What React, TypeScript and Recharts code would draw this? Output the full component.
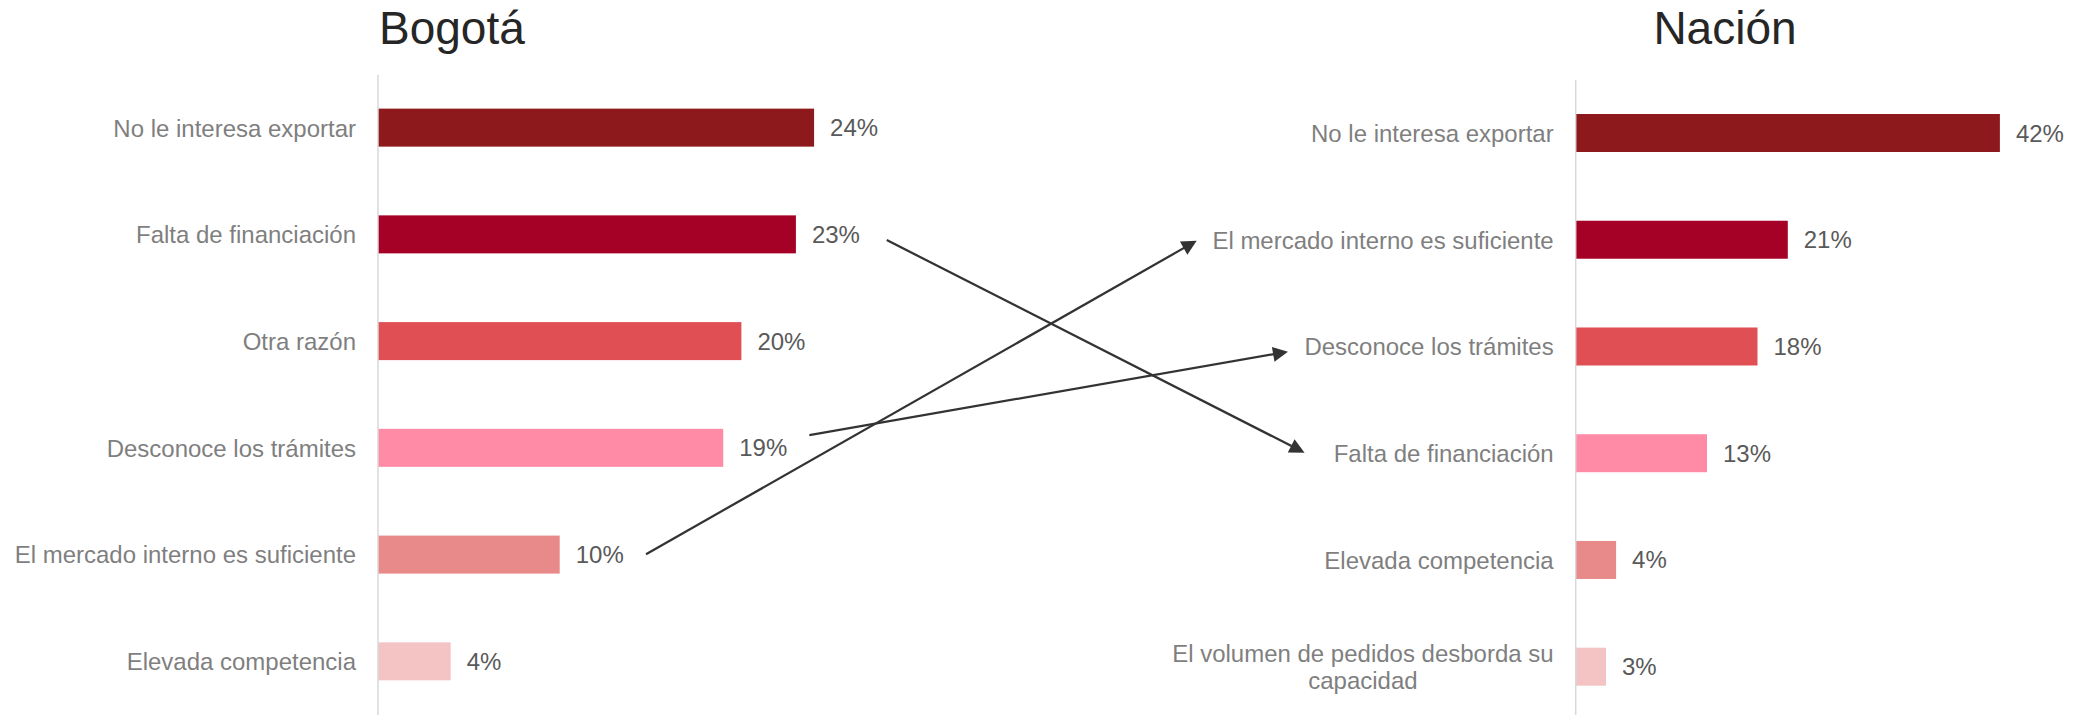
import React from 'react';
import { BarChart, Bar, XAxis, YAxis } from 'recharts';

// ---------- data ----------
const bogotaCategories = [
  'No le interesa exportar',
  'Falta de financiación',
  'Otra razón',
  'Desconoce los trámites',
  'El mercado interno es suficiente',
  'Elevada competencia',
];
const bogotaValues = [24, 23, 20, 19, 10, 4];

const nacionCategories = [
  'No le interesa exportar',
  'El mercado interno es suficiente',
  'Desconoce los trámites',
  'Falta de financiación',
  'Elevada competencia',
  'El volumen de pedidos desborda su capacidad',
];
const nacionValues = [42, 21, 18, 13, 4, 3];

const panelTitles = ['Bogotá', 'Nación'];
// categories whose rank changes, linked by arrows (Bogotá -> Nación)
const movedCategories = ['Falta de financiación', 'El mercado interno es suficiente', 'Desconoce los trámites'];

// ---------- style ----------
const barColors = ['#8E191C', '#A50026', '#E04F54', '#FF8BA7', '#E8898A', '#F4C4C5'];
const FONT = 'Arial, "Liberation Sans", sans-serif';
const W = 2075;
const H = 715;
const BAND = 106.74;
const LABEL_FS = 24;
const TICK_GAP = 22;
const VALUE_GAP = 16;
const BAR_SIZE = 38;
const LINE_H = 27.3;
const CAT_COLOR = '#7F7F7F';
const VAL_COLOR = '#595959';
const TITLE_COLOR = '#262626';
const ARROW_COLOR = '#333333';

const LEFT = { left: 0, axisX: 378, top: 74.63, max: 30, pxPer: 18.17, titleX: 379 };
const RIGHT = { left: 1100, axisX: 475.7, top: 80, max: 45, pxPer: 10.1, titleX: 1653.4 };

// per-arrow fine placement (start/end gaps and vertical nudges)
const arrowStyle = [
  { gapStart: 26.8, dyStart: 5.3, gapEnd: 29, dyEnd: -0.9 },
  { gapStart: 22.3, dyStart: -0.7, gapEnd: 15.5, dyEnd: 0.6 },
  { gapStart: 22.1, dyStart: -13.2, gapEnd: 16.3, dyEnd: 4.85 },
];

let ctx: CanvasRenderingContext2D | null = null;
function measure(text: string, size = LABEL_FS): number {
  if (!ctx && typeof document !== 'undefined') {
    const c = document.createElement('canvas');
    ctx = c.getContext('2d');
  }
  if (!ctx) return text.length * size * 0.5;
  ctx.font = `${size}px Arial, "Liberation Sans", sans-serif`;
  return ctx.measureText(text).width;
}

function wrap(text: string, maxW: number): string[] {
  const words = text.split(' ');
  const lines: string[] = [];
  let cur = '';
  for (const w of words) {
    const cand = cur ? cur + ' ' + w : w;
    if (cur && measure(cand) > maxW) {
      lines.push(cur);
      cur = w;
    } else {
      cur = cand;
    }
  }
  if (cur) lines.push(cur);
  return lines;
}

type Cfg = typeof LEFT;

function Panel({ categories, values, cfg }: { categories: string[]; values: number[]; cfg: Cfg }) {
  const data = categories.map((name, i) => ({ name, value: values[i] }));
  const plotW = cfg.max * cfg.pxPer;
  const marginRight = 70;
  const width = cfg.axisX + plotW + marginRight;
  const height = cfg.top + BAND * categories.length;

  const renderTick = (p: any) => {
    const label = String(p.payload.value);
    const lines = wrap(label, cfg.axisX - TICK_GAP - 4);
    const x = cfg.axisX - TICK_GAP;
    const y = p.y;
    const y0 = y - ((lines.length - 1) * LINE_H) / 2;
    if (lines.length === 1) {
      return (
        <text x={x} y={y} dy="0.355em" textAnchor="end" fill={CAT_COLOR} fontSize={LABEL_FS} fontFamily={FONT}>
          {label}
        </text>
      );
    }
    const blockW = Math.max(...lines.map((l) => measure(l)));
    const cx = x - blockW / 2;
    return (
      <g>
        {lines.map((l, i) => (
          <text key={i} x={cx} y={y0 + i * LINE_H} dy="0.355em" textAnchor="middle" fill={CAT_COLOR} fontSize={LABEL_FS} fontFamily={FONT}>
            {l}
          </text>
        ))}
      </g>
    );
  };

  const renderBar = (p: any) => {
    const { x, y, width: w, height: h, index } = p;
    const v = p.payload ? p.payload.value : p.value;
    return (
      <g>
        <rect x={x} y={y} width={w} height={h} fill={barColors[index % barColors.length]} />
        <text x={x + w + VALUE_GAP} y={y + h / 2} dy="0.355em" fill={VAL_COLOR} fontSize={LABEL_FS} fontFamily={FONT}>
          {v}%
        </text>
      </g>
    );
  };

  return (
    <BarChart
      layout="vertical"
      width={width}
      height={height}
      data={data}
      margin={{ top: cfg.top, right: marginRight, bottom: 0, left: 0 }}
    >
      <XAxis type="number" domain={[0, cfg.max]} hide />
      <YAxis
        type="category"
        dataKey="name"
        width={cfg.axisX}
        interval={0}
        tickLine={false}
        tickSize={0}
        axisLine={{ stroke: '#D9D9D9', strokeWidth: 1.5 }}
        tick={renderTick}
      />
      <Bar dataKey="value" barSize={BAR_SIZE} isAnimationActive={false} shape={renderBar} />
    </BarChart>
  );
}

function Arrows() {
  const items = movedCategories.map((cat, k) => {
    const st = arrowStyle[k];
    const li = bogotaCategories.indexOf(cat);
    const ri = nacionCategories.indexOf(cat);
    const lv = bogotaValues[li];
    const valueLabelEnd = LEFT.left + LEFT.axisX + lv * LEFT.pxPer + VALUE_GAP + measure(`${lv}%`);
    const x1 = valueLabelEnd + st.gapStart;
    const y1 = LEFT.top + BAND * (li + 0.5) + st.dyStart;
    const rightLabelLeft = RIGHT.left + RIGHT.axisX - TICK_GAP - measure(cat);
    const x2 = rightLabelLeft - st.gapEnd;
    const y2 = RIGHT.top + BAND * (ri + 0.5) + st.dyEnd;
    const dx = x2 - x1;
    const dy = y2 - y1;
    const len = Math.sqrt(dx * dx + dy * dy);
    const ux = dx / len;
    const uy = dy / len;
    const headL = 15;
    const headW = 7.5;
    const bx = x2 - ux * headL;
    const by = y2 - uy * headL;
    const p1 = `${x2},${y2}`;
    const p2 = `${bx - uy * headW},${by + ux * headW}`;
    const p3 = `${bx + uy * headW},${by - ux * headW}`;
    return (
      <g key={cat}>
        <line x1={x1} y1={y1} x2={bx + ux * 2} y2={by + uy * 2} stroke={ARROW_COLOR} strokeWidth={2.25} />
        <polygon points={`${p1} ${p2} ${p3}`} fill={ARROW_COLOR} />
      </g>
    );
  });
  return <g>{items}</g>;
}

export default function App() {
  return (
    <div
      style={{
        position: 'absolute',
        left: 0,
        top: 0,
        width: W,
        height: H,
        overflow: 'hidden',
        background: '#ffffff',
        fontFamily: FONT,
      }}
    >
      <div style={{ position: 'absolute', left: LEFT.left, top: 0 }}>
        <Panel categories={bogotaCategories} values={bogotaValues} cfg={LEFT} />
      </div>
      <div style={{ position: 'absolute', left: RIGHT.left, top: 0 }}>
        <Panel categories={nacionCategories} values={nacionValues} cfg={RIGHT} />
      </div>
      <svg
        width={W}
        height={H}
        style={{ position: 'absolute', left: 0, top: 0, pointerEvents: 'none' }}
      >
        <text x={LEFT.titleX} y={43.5} fontSize={46} fill={TITLE_COLOR} fontFamily={FONT}>
          {panelTitles[0]}
        </text>
        <text x={RIGHT.titleX} y={43.5} fontSize={46} fill={TITLE_COLOR} fontFamily={FONT}>
          {panelTitles[1]}
        </text>
        <Arrows />
      </svg>
    </div>
  );
}
